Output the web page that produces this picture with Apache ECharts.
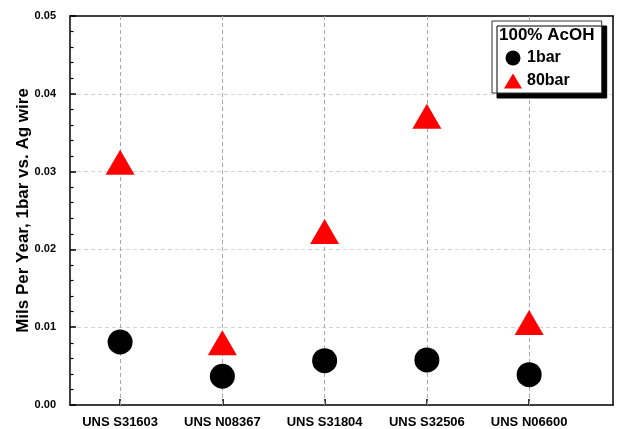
<!DOCTYPE html>
<html>
<head>
<meta charset="utf-8">
<script src="https://cdn.jsdelivr.net/npm/echarts@6/dist/echarts.min.js"></script>
<style>
  html, body { margin: 0; padding: 0; background: #fff; }
  #chart { width: 617px; height: 429px; }
</style>
</head>
<body>
<div id="chart"></div>
<script>
// Alloys tested (x positions 1..5)
const alloys = ['UNS S31603', 'UNS N08367', 'UNS S31804', 'UNS S32506', 'UNS N06600'];
// Corrosion rate, mils per year, at 1 bar
const rate1bar = [0.0081, 0.0037, 0.0057, 0.0058, 0.0039];
// Corrosion rate, mils per year, at 80 bar
const rate80bar = [0.0312, 0.0080, 0.0223, 0.0371, 0.0106];
// Y axis tick values
const yTicks = [0, 0.01, 0.02, 0.03, 0.04, 0.05];
const legendTitle = '100% AcOH';
const seriesNames = ['1bar', '80bar'];

const FONT = '"Liberation Sans", Arial, sans-serif';
const positions = alloys.map((_, i) => i + 1);
const toPoints = vals => vals.map((v, i) => [positions[i], v]);

const chart = echarts.init(document.getElementById('chart'), null, { renderer: 'canvas' });

const frameLine = { show: true, onZero: false, lineStyle: { color: '#000', width: 1.5 } };

chart.setOption({
  animation: false,
  backgroundColor: '#fff',
  grid: { left: 70, right: 4, top: 16, bottom: 23 },
  xAxis: [{
    type: 'value',
    min: 0.51,
    max: 5.82,
    axisLine: frameLine,
    axisTick: { inside: true, length: 6, customValues: positions, lineStyle: { color: '#000', width: 1.5 } },
    axisLabel: {
      customValues: positions,
      formatter: v => alloys[Math.round(v) - 1] || '',
      color: '#000', fontFamily: FONT, fontWeight: 'bold', fontSize: 13, margin: 11
    },
    splitLine: { show: false }
  }, {
    // top edge of the frame
    type: 'value', position: 'top', min: 0.51, max: 5.82,
    axisLine: frameLine, axisTick: { show: false }, axisLabel: { show: false }, splitLine: { show: false }
  }],
  yAxis: [{
    type: 'value',
    min: yTicks[0],
    max: yTicks[yTicks.length - 1],
    interval: yTicks[1] - yTicks[0],
    name: 'Mils Per Year, 1bar vs. Ag wire',
    nameLocation: 'middle',
    nameGap: 38,
    nameMoveOverlap: false,
    nameTextStyle: { color: '#000', fontFamily: FONT, fontWeight: 'bold', fontSize: 17 },
    axisLine: frameLine,
    axisTick: { inside: true, length: 6, lineStyle: { color: '#000', width: 1.5 } },
    minorTick: { show: true, splitNumber: 5, length: 3.5, lineStyle: { color: '#000', width: 1.2 } },
    axisLabel: {
      formatter: v => v.toFixed(2),
      color: '#000', fontFamily: FONT, fontWeight: 'bold', fontSize: 11, margin: 14
    },
    splitLine: { show: true, showMinLine: false, showMaxLine: false, lineStyle: { color: '#d4d4d4', type: [4, 3], width: 1 } }
  }, {
    // right edge of the frame
    type: 'value', position: 'right', min: yTicks[0], max: yTicks[yTicks.length - 1],
    axisLine: frameLine, axisTick: { show: false }, axisLabel: { show: false }, splitLine: { show: false }
  }],
  legend: {
    orient: 'vertical',
    left: 492,
    top: 21,
    z: 20,
    data: [
      { name: seriesNames[0], icon: 'circle' },
      { name: seriesNames[1], icon: 'path://M9,0L18,15L0,15Z' }
    ],
    itemWidth: 18,
    itemHeight: 15,
    itemGap: 7,
    padding: [29, 32, 4, 12],
    backgroundColor: '#fff',
    borderColor: '#333',
    borderWidth: 1,
    shadowColor: '#000',
    shadowBlur: 0,
    shadowOffsetX: 5,
    shadowOffsetY: 5,
    textStyle: { color: '#000', fontFamily: FONT, fontWeight: 'bold', fontSize: 16 }
  },
  graphic: [{
    type: 'text',
    left: 499,
    top: 27,
    z: 100,
    style: { text: legendTitle, fill: '#000', font: 'bold 17px ' + FONT }
  }],
  series: [
    {
      // vertical dashed guides at each alloy position
      type: 'scatter',
      name: 'guides',
      data: [],
      z: 1,
      silent: true,
      markLine: {
        z: 1,
        silent: true,
        symbol: 'none',
        label: { show: false },
        lineStyle: { color: '#a8a8a8', type: [4, 3], width: 1 },
        data: positions.map(p => ({ xAxis: p }))
      }
    },
    {
      type: 'scatter',
      name: seriesNames[0],
      data: toPoints(rate1bar),
      symbol: 'circle',
      symbolSize: 25,
      itemStyle: { color: '#000', opacity: 1 },
      z: 3
    },
    {
      type: 'scatter',
      name: seriesNames[1],
      data: toPoints(rate80bar),
      symbol: 'triangle',
      symbolSize: [29, 25],
      itemStyle: { color: '#ff0000', opacity: 1 },
      z: 3
    }
  ]
});
</script>
</body>
</html>
